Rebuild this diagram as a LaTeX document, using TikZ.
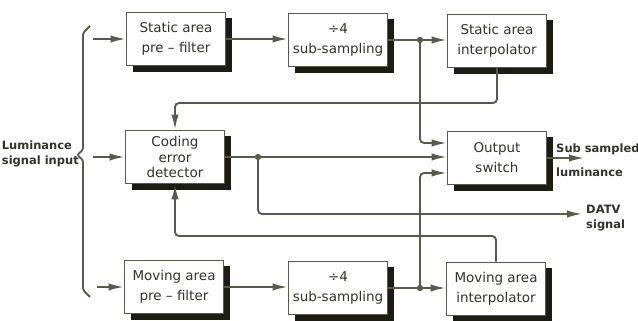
\documentclass[tikz,border=0pt]{standalone}
\usepackage{fontspec}
\setmainfont{DejaVu Sans}
\usepackage{tikz}
\usetikzlibrary{positioning, arrows.meta, shadows, calc}
\definecolor{wire}{HTML}{5B5A4A}
\definecolor{ink}{HTML}{33332A}
\definecolor{shade}{HTML}{1C1C14}
\tikzset{
  block/.style={draw=wire, line width=1.4pt, fill=white, text=ink, align=center, font=\fontsize{11.5}{13}\selectfont, minimum width=29.7mm, minimum height=16mm, inner sep=2pt, drop shadow={shadow xshift=1.8mm, shadow yshift=-1.8mm, fill=shade, opacity=1}},
  link/.style={line width=1.6pt, draw=wire, rounded corners=1.2mm},
  arrow/.style={link, -{Latex[length=4.5mm, width=2.2mm]}},
  junction/.style={circle, fill=wire, inner sep=0pt, minimum size=1.9mm},
  note/.style={text=ink, align=left, font=\fontsize{9.8}{12.5}\selectfont\bfseries, inner sep=0pt},
}

\begin{document}
\begin{tikzpicture}[x=0.3mm, y=-0.3mm]
  \useasboundingbox (0,0) rectangle (638,321);
  % static path (top row)
  \node[block] (spre) at (176,39) {Static area\\[4pt]pre -- filter};
  \node[block] (ssub) at (338,40) {÷4\\[4pt]sub-sampling};
  \node[block] (sint) at (497,41) {Static area\\[4pt]interpolator};
  % decision and switching (middle row)
  \node[block] (ced) at (175,157) {Coding\\error\\detector};
  \node[block] (osw) at (497,158) {Output\\[4pt]switch};
  % moving path (bottom row)
  \node[block] (mpre) at (174,287) {Moving area\\[4pt]pre -- filter};
  \node[block] (msub) at (338,288) {÷4\\[4pt]sub-sampling};
  \node[block] (mint) at (496,289) {Moving area\\[4pt]interpolator};

  % input brace and its three feeds
  \draw[link, rounded corners=2pt] (90,26) -- (83,33) -- (83,150) -- (77,155) -- (83,160) -- (83,290) -- (90,297);
  \node[note, anchor=east] (lumin) at (79,154) {Luminance\\signal input};
  \coordinate (inS) at (93,39);
  \coordinate (inC) at (93,157);
  \coordinate (inM) at (97,287);
  \draw[arrow] (inS) -- (inS -| spre.west);
  \draw[arrow] (inC) -- (inC -| ced.west);
  \draw[arrow] (inM) -- (inM -| mpre.west);

  % forward chains
  \draw[arrow] (spre.east) -- (spre.east -| ssub.west);
  \draw[arrow] (ssub.east) -- (ssub.east -| sint.west);
  \draw[arrow] (mpre.east) -- (mpre.east -| msub.west);
  \draw[arrow] (msub.east) -- (msub.east -| mint.west);
  \node[junction] (jS) at (420,40) {};
  \node[junction] (jM) at (420,288) {};
  \draw[arrow] (jS.center) |- ([yshift=4.5mm]osw.west);
  \draw[arrow] (jM.center) |- ([yshift=-4.5mm]osw.west);

  % interpolator feedback to the detector
  \coordinate (fbS) at (175,103);
  \coordinate (fbM) at (175,236);
  \draw[arrow] (sint.south) |- (fbS) -- (ced.north);
  \draw[arrow] (mint.north) |- (fbM) -- (ced.south);

  % detector decision to switch and DATV
  \draw[arrow] (ced.east) -- (ced.east -| osw.west);
  \node[junction] (jC) at (258,157) {};
  \coordinate (datv) at (582,214);
  \draw[arrow] (jC.center) |- (datv);
  \node[note, anchor=west] (datvlbl) at (586,218) {DATV\\signal};

  % switch output
  \coordinate (subL) at (584,158);
  \draw[arrow] (osw.east) -- (subL);
  \node[note, anchor=west] (sublbl) at (556,160) {Sub sampled\\[8pt]luminance};
\end{tikzpicture}
\end{document}
